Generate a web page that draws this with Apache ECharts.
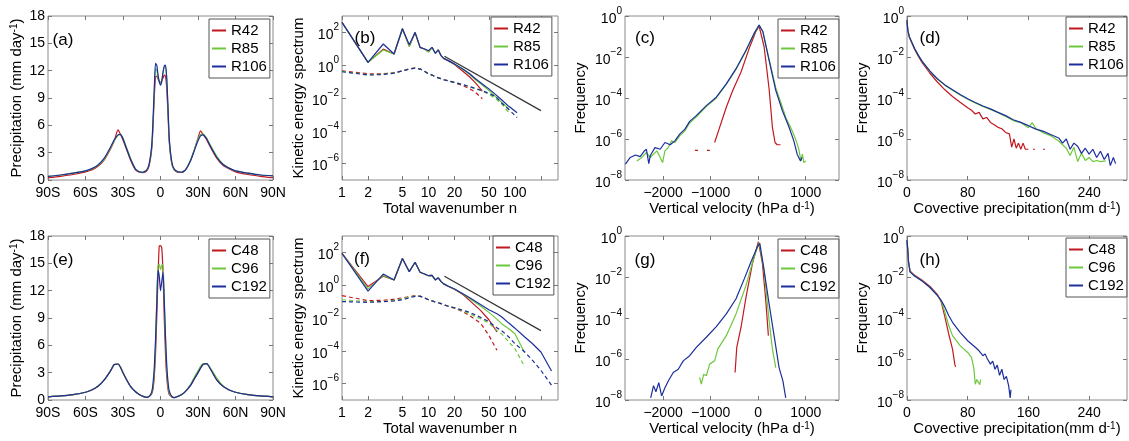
<!DOCTYPE html>
<html><head><meta charset="utf-8">
<script src="https://cdn.jsdelivr.net/npm/echarts@6/dist/echarts.min.js"></script>
<style>html,body{margin:0;padding:0;background:#fff}#c{width:1129px;height:441px}</style>
</head><body><div id="c"></div>
<script>
// ---------- DATA ----------
// (a),(e) zonal-mean precipitation vs latitude
const lat = [-90,-80,-70,-60,-55,-50,-45,-40,-37,-34,-32,-30,-27,-24,-20,-17,-14,-11,-9,-7,-6,-5,-4,-3,-2,-1,0,1,2,3,4,5,6,7,9,11,14,17,20,24,27,30,32,34,37,40,45,50,55,60,70,80,90];
const precR42  = [0.25,0.4,0.6,0.9,1.1,1.5,2.2,3.4,4.3,5.5,5.0,4.4,3.3,2.2,1.1,0.85,0.8,1.0,1.6,3.4,5.8,9.0,11.3,11.4,11.1,10.8,10.7,10.9,11.2,11.5,11.4,10.0,7.2,4.2,1.8,1.1,0.85,0.85,1.1,2.1,3.3,4.6,5.4,5.0,4.4,3.6,2.4,1.6,1.2,0.9,0.6,0.4,0.25];
const precR85  = [0.4,0.55,0.75,1.0,1.2,1.6,2.3,3.5,4.3,4.9,5.0,4.6,3.5,2.4,1.2,0.9,0.85,1.1,1.8,3.6,6.2,9.6,12.2,12.1,11.3,10.8,10.6,10.9,11.8,12.4,12.4,11.0,7.8,4.4,1.9,1.1,0.9,0.85,1.1,2.2,3.3,4.5,5.0,5.05,4.6,3.8,2.6,1.75,1.3,1.0,0.75,0.55,0.45];
const precR106 = [0.4,0.55,0.75,1.0,1.25,1.65,2.4,3.6,4.4,4.95,5.0,4.5,3.4,2.3,1.2,0.9,0.85,1.1,1.8,3.8,6.5,10.0,12.8,12.6,11.6,10.8,10.4,10.8,11.8,12.5,12.6,11.2,8.0,4.6,2.0,1.2,0.9,0.85,1.1,2.1,3.2,4.3,4.85,4.95,4.5,3.7,2.5,1.7,1.3,1.0,0.75,0.55,0.45];
const precC48  = [0.35,0.45,0.6,0.85,1.1,1.5,2.2,3.2,3.9,3.95,3.6,3.0,2.2,1.5,0.9,0.6,0.4,0.3,0.4,0.7,1.2,2.5,5.0,9.0,13.5,16.9,16.95,16.7,14.0,9.0,5.0,2.5,1.2,0.6,0.35,0.25,0.4,0.6,0.95,1.6,2.3,3.0,3.5,3.9,4.0,3.4,2.2,1.5,1.1,0.85,0.6,0.45,0.35];
const precC96  = [0.35,0.45,0.6,0.85,1.1,1.5,2.2,3.2,3.9,3.95,3.6,3.0,2.2,1.5,0.9,0.6,0.4,0.3,0.4,0.8,1.5,3.0,6.0,11.0,14.7,14.9,14.3,14.8,14.9,11.0,6.5,3.3,1.6,0.8,0.35,0.25,0.4,0.6,0.95,1.7,2.5,3.2,3.7,4.0,3.95,3.5,2.4,1.55,1.1,0.85,0.6,0.45,0.35];
const precC192 = [0.35,0.45,0.6,0.85,1.1,1.5,2.2,3.2,3.9,3.95,3.6,3.0,2.2,1.5,0.9,0.6,0.4,0.28,0.4,0.9,1.8,3.5,6.5,10.5,14.2,13.6,12.0,13.0,14.0,11.0,7.0,3.8,2.0,1.0,0.4,0.25,0.4,0.6,0.95,1.6,2.3,3.0,3.5,3.9,4.0,3.4,2.2,1.5,1.1,0.85,0.6,0.45,0.35];
const latTicks = [-90,-60,-30,0,30,60,90];

// (b) kinetic energy spectra, R runs (solid = total, dashed = second component)
const nB = [1,2,3,4,5,6,7,8,9,10,11,12,13,14,15,17,20,25,30,35,42,50,60,70,85,106];
const keR42  = [405,1.5,9.5,4.8,167,14,100,12.3,9.8,6.5,12,5.3,8.5,3.8,2.6,1.8,1.1,0.43,0.19,0.083,0.026];
const keR85  = [405,1.5,8.5,4.8,167,14,100,12.3,9.8,6.3,12,5.3,8.5,3.8,2.6,1.85,1.15,0.55,0.27,0.13,0.062,0.029,0.012,0.0056,0.0022];
const keR106 = [405,1.5,19.6,4.8,167,17.8,100,12.3,9.8,7.8,12.3,5.3,8.5,3.8,2.6,1.9,1.2,0.59,0.3,0.15,0.072,0.036,0.016,0.0078,0.0031,0.00126];
const kdR42  = [0.45,0.3,0.3,0.35,0.45,0.6,0.68,0.6,0.43,0.3,0.25,0.2,0.17,0.15,0.13,0.11,0.085,0.057,0.037,0.022,0.009];
const kdR85  = [0.42,0.26,0.28,0.34,0.45,0.59,0.66,0.58,0.43,0.3,0.25,0.2,0.17,0.15,0.13,0.11,0.09,0.064,0.048,0.036,0.026,0.017,0.009,0.0045,0.0013];
const kdR106 = [0.4,0.25,0.27,0.33,0.45,0.58,0.66,0.58,0.43,0.3,0.25,0.2,0.17,0.15,0.13,0.11,0.09,0.066,0.05,0.038,0.028,0.019,0.012,0.005,0.002,0.00065];
// (f) kinetic energy spectra, C runs
const nF = [1,2,3,4,5,6,7,8,9,10,11,12,13,14,15,17,20,25,30,40,50,62,70,85,100,130,160,200,265];
const keC48  = [87,0.83,3.5,2.1,43,6.7,25,6.2,4.8,3.8,4.0,2.1,2.8,1.65,1.2,0.85,0.57,0.27,0.115,0.029,0.0078,0.0014];
const keC96  = [87,0.6,4.0,2.1,43,6.7,25,6.2,4.8,3.8,4.0,2.1,2.8,1.65,1.2,0.87,0.59,0.29,0.15,0.054,0.022,0.0085,0.0045,0.0022,0.0011,0.000074];
const keC192 = [87,0.43,4.8,2.1,43,6.7,25,6.2,4.8,3.8,4.0,2.1,2.8,1.65,1.2,0.87,0.59,0.3,0.17,0.066,0.032,0.018,0.012,0.0049,0.0024,0.0007,0.00027,0.000085,0.0000059];
const kdC48  = [0.23,0.115,0.12,0.14,0.17,0.2,0.23,0.22,0.17,0.13,0.11,0.095,0.085,0.075,0.065,0.052,0.04,0.024,0.014,0.0049,0.00087,0.000107];
const kdC96  = [0.13,0.1,0.1,0.12,0.15,0.19,0.22,0.22,0.17,0.13,0.11,0.095,0.085,0.075,0.065,0.052,0.042,0.027,0.018,0.009,0.005,0.0017,0.0011,0.00034,0.000135,0.0000105];
const kdC192 = [0.1,0.09,0.1,0.11,0.13,0.17,0.21,0.21,0.17,0.13,0.11,0.095,0.085,0.075,0.065,0.052,0.042,0.03,0.022,0.011,0.006,0.0025,0.0017,0.0007,0.00027,0.000085,0.000026,0.0000064,0.0000008];
const refN = [15.3, 200];
const refKE = [3.5, 0.0017];
const waveTicks = [1,2,5,10,20,50,100];

// (c),(g) vertical velocity PDFs: [omega (hPa/d), log10 frequency]
const wR42  = [[-915,-6.17],[-810,-5.43],[-670,-4.45],[-535,-3.63],[-360,-2.73],[-190,-1.59],[-50,-0.77],[20,-0.49],[125,-1.5],[230,-3.55],[300,-5.43],[355,-6.17],[400,-6.28],[470,-6.28]];
const wR42tail = [[-1330,-6.55],[-985,-6.55]];
const wR85  = [[-2550,-7.07],[-2445,-6.9],[-2350,-6.66],[-2270,-6.9],[-2130,-6.58],[-2060,-6.9],[-2010,-7.15],[-1960,-6.58],[-1890,-6.42],[-1820,-6.09],[-1750,-6.17],[-1650,-5.85],[-1540,-5.6],[-1440,-5.22],[-1300,-4.92],[-1090,-4.42],[-880,-4.0],[-670,-3.33],[-465,-2.6],[-255,-1.7],[-85,-0.87],[20,-0.44],[100,-0.77],[230,-2.1],[370,-3.5],[510,-4.45],[580,-4.94],[715,-5.6],[800,-6.09],[855,-6.5],[900,-7.07],[930,-6.74],[960,-7.15],[1000,-7.07]];
const wR106 = [[-2790,-7.23],[-2690,-6.9],[-2580,-6.78],[-2480,-6.86],[-2400,-6.6],[-2350,-6.5],[-2300,-7.2],[-2270,-6.82],[-2170,-6.42],[-2060,-6.5],[-1960,-6.17],[-1850,-6.28],[-1750,-6.09],[-1650,-5.76],[-1540,-5.52],[-1440,-5.14],[-1300,-4.86],[-1090,-4.37],[-880,-3.96],[-670,-3.31],[-465,-2.57],[-255,-1.67],[-85,-0.85],[20,-0.44],[100,-0.77],[230,-2.16],[370,-3.63],[510,-4.62],[650,-5.43],[750,-6.09],[820,-6.74],[890,-7.07],[920,-6.9]];
const wC48  = [[-485,-6.66],[-450,-5.43],[-360,-4.45],[-255,-2.98],[-120,-1.34],[5,-0.28],[90,-1.34],[160,-3.14],[215,-4.86]];
const wC96  = [[-1230,-6.9],[-1195,-7.23],[-1145,-6.74],[-1090,-6.82],[-1020,-6.25],[-915,-6.09],[-850,-5.52],[-670,-4.86],[-465,-3.8],[-255,-2.41],[-85,-1.01],[20,-0.33],[125,-1.67],[230,-4.12],[300,-5.52],[370,-6.42]];
const wC192 = [[-2260,-7.9],[-2200,-7.3],[-2150,-7.6],[-2090,-7.15],[-2030,-7.8],[-1960,-7.4],[-1890,-7.07],[-1785,-6.66],[-1680,-6.5],[-1575,-6.09],[-1440,-5.84],[-1300,-5.43],[-1090,-4.94],[-880,-4.42],[-670,-3.8],[-465,-3.06],[-290,-2.08],[-150,-1.26],[-15,-0.52],[35,-0.36],[125,-1.67],[230,-3.31],[335,-4.86],[440,-6.42],[520,-7.07],[580,-7.9]];
const velTicks = [-2000,-1000,0,1000];

// (d),(h) convective precipitation PDFs: [mm/d, log10 frequency]
const pR42  = [[0,-0.2],[1,-0.69],[3,-1.01],[6,-1.28],[10,-1.62],[15,-1.97],[20,-2.28],[30,-2.78],[40,-3.22],[50,-3.6],[60,-3.93],[70,-4.21],[80,-4.48],[85,-4.6],[90,-4.78],[95,-4.7],[100,-5.02],[105,-4.95],[110,-5.19],[115,-5.3],[120,-5.43],[125,-5.5],[130,-5.68],[135,-5.75],[138,-6.4],[141,-6.0],[144,-6.45],[147,-6.2],[150,-6.5],[153,-6.2],[156,-6.5],[160,-6.5]];
const pR42tail = [[166,-6.5],[190,-6.5]];
const pR85  = [[0,-0.2],[1,-0.69],[3,-1.01],[6,-1.26],[10,-1.59],[15,-1.92],[20,-2.21],[30,-2.68],[40,-3.08],[50,-3.38],[60,-3.62],[70,-3.85],[80,-4.06],[90,-4.24],[100,-4.41],[110,-4.56],[120,-4.72],[130,-4.9],[140,-5.1],[150,-5.2],[160,-5.45],[165,-5.2],[170,-5.5],[180,-5.7],[190,-5.85],[200,-6.1],[210,-6.45],[215,-6.8],[220,-6.4],[225,-7.1],[230,-6.7],[235,-7.05],[240,-6.9],[245,-7.1],[250,-7.05],[255,-7.1],[262,-7.07]];
const pR106 = [[0,-0.2],[1,-0.69],[3,-1.01],[6,-1.26],[10,-1.59],[15,-1.92],[20,-2.21],[30,-2.68],[40,-3.06],[50,-3.36],[60,-3.6],[70,-3.83],[80,-4.04],[90,-4.22],[100,-4.39],[110,-4.53],[120,-4.7],[130,-4.86],[140,-5.06],[150,-5.19],[160,-5.35],[170,-5.52],[180,-5.63],[190,-5.79],[200,-5.95],[205,-6.2],[210,-6.0],[215,-6.5],[220,-6.2],[225,-6.35],[230,-6.7],[235,-6.45],[240,-6.74],[245,-6.5],[250,-6.9],[255,-6.6],[260,-7.0],[265,-6.7],[268,-7.3],[272,-6.9],[275,-7.2]];
const pC48  = [[0,-0.2],[1,-0.69],[2,-1.26],[4,-1.7],[10,-1.92],[20,-2.16],[30,-2.45],[40,-2.85],[45,-3.2],[50,-3.96],[55,-4.78],[60,-5.52],[63,-6.25],[64,-6.38]];
const pC96  = [[0,-0.2],[1,-0.69],[2,-1.26],[4,-1.75],[10,-1.95],[20,-2.2],[30,-2.5],[40,-2.9],[45,-3.16],[50,-3.72],[55,-4.37],[60,-4.86],[70,-5.35],[80,-5.68],[85,-5.92],[88,-6.42],[90,-7.23],[92,-7.0],[94,-7.0],[96,-7.25],[97,-7.0]];
const pC192 = [[0,-0.2],[1,-0.69],[2,-1.26],[4,-1.75],[10,-1.95],[20,-2.2],[30,-2.5],[40,-2.9],[45,-3.14],[50,-3.47],[55,-3.88],[60,-4.21],[70,-4.7],[80,-5.11],[90,-5.43],[95,-5.6],[100,-5.84],[103,-5.75],[106,-6.0],[110,-6.25],[113,-6.1],[116,-6.5],[119,-6.3],[122,-6.8],[125,-6.5],[128,-7.0],[131,-6.85],[134,-7.3],[136,-7.9],[137,-7.5]];
const precTicks = [0,80,160,240];

const namesR = ['R42','R85','R106'];
const namesC = ['C48','C96','C192'];
const panelLabels = ['(a)','(b)','(c)','(d)','(e)','(f)','(g)','(h)'];

// ---------- CHART ----------
const FONT = '"Liberation Sans", Arial, Helvetica, sans-serif';
const RED = '#c0181f', GREEN = '#6cc83c', BLUE = '#1c2e9c';
const COLORS = [RED, GREEN, BLUE];
const chart = echarts.init(document.getElementById('c'));

const rows = [16, 236];
const cols = [[48,225],[342,216],[625,214],[907,220]];
const grids = [];
rows.forEach(t => cols.forEach(c => grids.push({left:c[0], top:t, width:c[1], height:164, show:true, borderColor:'#8a8a8a', borderWidth:1, backgroundColor:'#fff'})));

const supRich = {
  b: {fontSize:14, fontFamily:FONT, color:'#000', lineHeight:20, verticalAlign:'bottom'},
  s: {fontSize:10, fontFamily:FONT, color:'#000', lineHeight:10, verticalAlign:'top'}
};
function logFmt(v){ const e = Math.round(Math.log10(v)); return '{b|10}{s|' + (e < 0 ? '\u2212' + (-e) : e) + '}'; }
const tickStyle = {inside:true, length:4, lineStyle:{color:'#777', width:1}};
const lblStyle = {fontSize:14, fontFamily:FONT, color:'#000'};
const nameStyle = {fontSize:15, fontFamily:FONT, color:'#000'};
const noLine = {show:false, onZero:false};

const xAxes = [], yAxes = [];
function addX(g, cfg, name, gap){
  const base = Object.assign({gridIndex:g, splitLine:{show:false}, axisLine:noLine}, cfg);
  const bottom = Object.assign({}, base, {position:'bottom', name:name||'', nameLocation:'middle', nameGap:gap||14,
     nameTextStyle:Object.assign({verticalAlign:'top', rich:{n:nameStyle, s:{fontSize:10,fontFamily:FONT,verticalAlign:'top',lineHeight:10}}}, nameStyle),
     axisLabel:Object.assign({margin:6}, lblStyle, cfg.axisLabel||{}),
     axisTick:Object.assign({}, tickStyle, cfg.axisTick||{})});
  const top = Object.assign({}, base, {position:'top', axisLabel:{show:false}, axisTick:Object.assign({}, tickStyle, cfg.axisTick||{})});
  xAxes.push(bottom, top);
}
function addY(g, cfg, name, gap){
  const base = Object.assign({gridIndex:g, splitLine:{show:false}, axisLine:noLine}, cfg);
  const left = Object.assign({}, base, {position:'left', name:name||'', nameLocation:'middle', nameGap:gap||30,
     nameTextStyle:Object.assign({rich:{n:nameStyle, s:{fontSize:10,fontFamily:FONT,verticalAlign:'top',lineHeight:10}}}, nameStyle),
     axisLabel:Object.assign({margin:3}, lblStyle, cfg.axisLabel||{}),
     axisTick:Object.assign({}, tickStyle, cfg.axisTick||{})});
  const right = Object.assign({}, base, {position:'right', axisLabel:{show:false}, axisTick:Object.assign({}, tickStyle, cfg.axisTick||{})});
  yAxes.push(left, right);
}
const latFmt = v => v === 0 ? '0' : Math.abs(v) + (v < 0 ? 'S' : 'N');
const logY = (mn, mx, vals) => ({type:'log', min:mn, max:mx, axisLabel:{customValues:vals, formatter:logFmt, rich:supRich}, axisTick:{customValues:vals}});
const waveX = {type:'log', min:1, max:315, axisLabel:{customValues:waveTicks, formatter:v => String(Math.round(v))}, axisTick:{customValues:waveTicks.concat([200])}};
const velX = {type:'value', min:-2800, max:1700, axisLabel:{customValues:velTicks, formatter:v => v < 0 ? '\u2212' + (-v) : String(v)}, axisTick:{customValues:velTicks}};
const cpX = {type:'value', min:0, max:290, axisLabel:{customValues:precTicks}, axisTick:{customValues:precTicks}};
const latX = {type:'value', min:-90, max:90, interval:30, axisLabel:{formatter:latFmt}};
const precY = {type:'value', min:0, max:18, interval:3};
const precName = '{n|Precipitation (mm day}{s|-1}{n|)}';
const freqVals = [1e-8,1e-6,1e-4,1e-2,1];
const keVals = [1e-6,1e-4,1e-2,1,1e2];

for (let r = 0; r < 2; r++) {
  const g = r * 4;
  addX(g, latX, '');
  addY(g, precY, precName, 24);
  addX(g+1, waveX, 'Total wavenumber n', 13);
  addY(g+1, logY(1e-7, 1e3, keVals), 'Kinetic energy spectrum', 36);
  addX(g+2, velX, '{n|Vertical velocity (hPa d}{s|-1}{n|)}', 15);
  addY(g+2, logY(1e-8, 1, freqVals), 'Frequency', 37);
  addX(g+3, cpX, '{n|Covective precipitation(mm d}{s|-1}{n|)}', 15);
  addY(g+3, logY(1e-8, 1, freqVals), 'Frequency', 37);
}

const series = [];
function line(g, name, color, data, opt){
  series.push(Object.assign({type:'line', name:name, xAxisIndex:2*g, yAxisIndex:2*g, data:data, showSymbol:false, symbol:'none',
    color:color, lineStyle:{color:color, width:1.2}, animation:false, z:3}, opt||{}));
}
const zipXY = (xs, ys) => ys.map((v, i) => [xs[i], v]);
const fromLog = arr => arr.map(p => [p[0], Math.pow(10, p[1])]);

// (a) & (e)
[[precR42, precR85, precR106, namesR, 0], [precC48, precC96, precC192, namesC, 4]].forEach(s => {
  for (let k = 0; k < 3; k++) line(s[4], s[3][k], COLORS[k], zipXY(lat, s[k]), {smooth:0.2});
});
// (b) & (f)
[[nB, [keR42, keR85, keR106], [kdR42, kdR85, kdR106], namesR, 1], [nF, [keC48, keC96, keC192], [kdC48, kdC96, kdC192], namesC, 5]].forEach(s => {
  for (let k = 0; k < 3; k++) line(s[4], s[3][k], COLORS[k], zipXY(s[0], s[1][k]));
  for (let k = 0; k < 3; k++) line(s[4], s[3][k] + ' (dashed)', COLORS[k], zipXY(s[0], s[2][k]), {lineStyle:{color:COLORS[k], width:1.2, type:[4,3]}});
  line(s[4], 'slope', '#333', zipXY(refN, refKE), {lineStyle:{color:'#333', width:1.2}});
});
// (c) & (g)
line(2, 'R42', RED, fromLog(wR42));
line(2, 'R42 tail', RED, fromLog(wR42tail), {lineStyle:{color:RED, width:1.2, type:[3,9]}});
line(2, 'R85', GREEN, fromLog(wR85));
line(2, 'R106', BLUE, fromLog(wR106));
line(6, 'C48', RED, fromLog(wC48));
line(6, 'C96', GREEN, fromLog(wC96));
line(6, 'C192', BLUE, fromLog(wC192));
// (d) & (h)
line(3, 'R42', RED, fromLog(pR42));
line(3, 'R42 tail', RED, fromLog(pR42tail), {lineStyle:{color:RED, width:1.2, type:[2,8]}});
line(3, 'R85', GREEN, fromLog(pR85));
line(3, 'R106', BLUE, fromLog(pR106));
line(7, 'C48', RED, fromLog(pC48));
line(7, 'C96', GREEN, fromLog(pC96));
line(7, 'C192', BLUE, fromLog(pC192));

const legendPos = [[209,19],[491,17],[778,19],[1066,17],[209,239],[493,236],[778,239],[1066,238]];
const legends = legendPos.map((p, i) => ({
  orient:'vertical', left:p[0], top:p[1], data: i < 4 ? namesR : namesC,
  icon:'rect', itemWidth:14, itemHeight:2, itemGap:1, padding:[3,3,3,3],
  borderColor:'#555', borderWidth:1, backgroundColor:'#fff', selectedMode:false,
  textStyle:{fontSize:15, fontFamily:FONT, color:'#000', lineHeight:17}
}));

const labelPos = [[63,40],[365,38],[645,38],[930,38],[63,260],[362,259],[645,260],[930,260]];
const graphics = panelLabels.map((t, i) => ({type:'text', x:labelPos[i][0], y:labelPos[i][1], z:10,
  style:{text:t, fontSize:17, fontFamily:FONT, fill:'#000', textAlign:'center', textVerticalAlign:'middle'}}));

chart.setOption({
  backgroundColor:'#fff', animation:false,
  grid:grids, xAxis:xAxes, yAxis:yAxes, series:series, legend:legends, graphic:graphics
});
</script></body></html>
